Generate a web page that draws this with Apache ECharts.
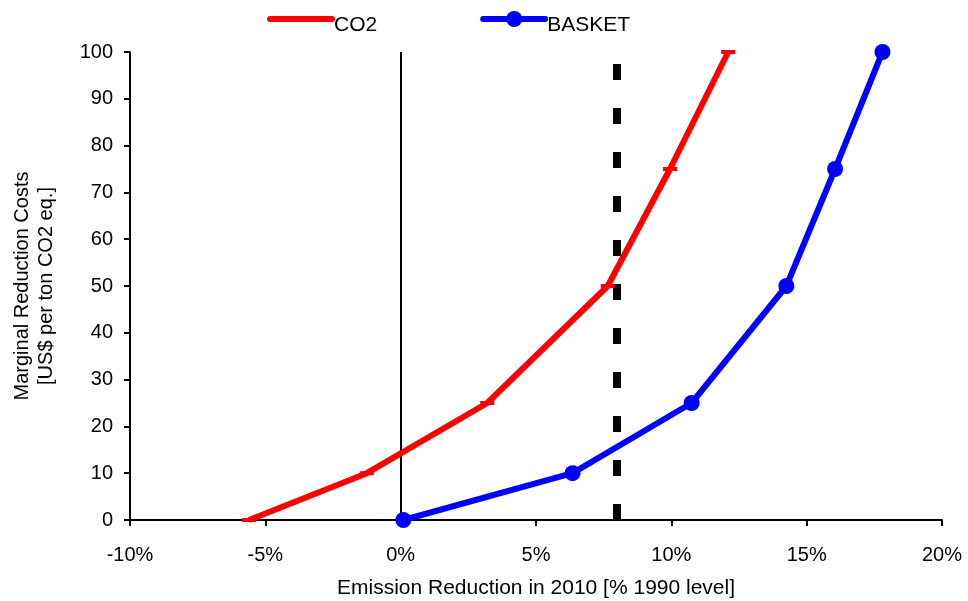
<!DOCTYPE html>
<html>
<head>
<meta charset="utf-8">
<script src="https://cdn.jsdelivr.net/npm/echarts@6/dist/echarts.min.js"></script>
<style>
  html, body { margin: 0; padding: 0; background: #fff; }
  #chart { width: 968px; height: 601px; }
</style>
</head>
<body>
<div id="chart"></div>
<script>
// marginal cost levels (US$ per ton CO2 eq.)
const costLevels = [0, 10, 25, 50, 75, 100];
// emission reduction in 2010 (% of 1990 level)
const co2Reduction = [-5.6, -1.25, 3.2, 7.65, 9.95, 12.1];
const basketReduction = [0.1, 6.35, 10.75, 14.25, 16.05, 17.8];
const targetLine = 8;

const pairs = (xs, ys) => xs.map((x, i) => [x, ys[i]]);
const font = 'Liberation Sans, Arial, sans-serif';

let myChart = echarts.init(document.getElementById('chart'));
let options = {
  backgroundColor: '#fff',
  textStyle: { fontFamily: font },
  animation: false,
  legend: {
    top: 6,
    left: 262,
    itemWidth: 62,
    itemHeight: 20,
    itemGap: 103,
    lineStyle: { width: 6, cap: 'round' },
    formatter: '{t|{name}}',
    textStyle: {
      fontSize: 21, color: '#000', fontFamily: font,
      rich: { t: { fontSize: 21, color: '#000', fontFamily: font, padding: [12, 0, 0, -3] } }
    },
    data: [
      { name: 'CO2', itemStyle: { opacity: 0 } },
      { name: 'BASKET' }
    ]
  },
  grid: { left: 130, right: 26, top: 52, bottom: 81, outerBoundsMode: 'none' },
  xAxis: {
    type: 'value',
    min: -10,
    max: 20,
    interval: 5,
    name: 'Emission Reduction in 2010 [% 1990 level]',
    nameLocation: 'middle',
    nameGap: 58,
    nameTextStyle: { fontSize: 21, color: '#000', fontFamily: font },
    axisLine: { onZero: false, lineStyle: { color: '#000', width: 2 } },
    axisTick: { inside: false, length: 6, lineStyle: { color: '#000', width: 2 } },
    axisLabel: { formatter: '{value}%', fontSize: 20, color: '#000', margin: 25, fontFamily: font },
    splitLine: { show: false }
  },
  yAxis: {
    type: 'value',
    min: 0,
    max: 100,
    interval: 10,
    name: 'Marginal Reduction Costs\n[US$ per ton CO2 eq.]',
    nameLocation: 'middle',
    nameRotate: 90,
    nameGap: 72,
    nameTextStyle: { fontSize: 20, color: '#000', lineHeight: 24, fontFamily: font },
    axisLine: { show: true, onZero: false, lineStyle: { color: '#000', width: 2 } },
    axisTick: { show: true, length: 6, lineStyle: { color: '#000', width: 2 } },
    axisLabel: { fontSize: 20, color: '#000', margin: 17, fontFamily: font },
    splitLine: { show: false }
  },
  series: [
    {
      name: 'CO2',
      type: 'line',
      data: pairs(co2Reduction, costLevels),
      symbol: 'rect',
      symbolSize: [14, 4],
      lineStyle: { color: '#ff0000', width: 6 },
      itemStyle: { color: '#ff0000' },
      z: 3,
      markLine: {
        silent: true,
        symbol: 'none',
        label: { show: false },
        lineStyle: { color: '#000', width: 8, type: [16, 28], opacity: 1 },
        data: [{ xAxis: targetLine }],
        z: 2
      }
    },
    {
      name: 'BASKET',
      type: 'line',
      data: pairs(basketReduction, costLevels),
      symbol: 'circle',
      symbolSize: 16,
      lineStyle: { color: '#0000ff', width: 6 },
      itemStyle: { color: '#0000ff' },
      z: 3,
      markLine: {
        silent: true,
        symbol: 'none',
        label: { show: false },
        lineStyle: { color: '#000', width: 2, type: 'solid', opacity: 1 },
        data: [{ xAxis: 0 }],
        z: 1
      }
    }
  ]
};
myChart.setOption(options);
</script>
</body>
</html>
